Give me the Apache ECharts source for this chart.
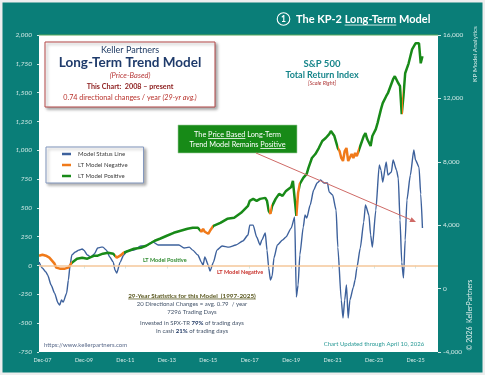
<!DOCTYPE html>
<html>
<head>
<meta charset="utf-8">
<title>The KP-2 Long-Term Model</title>
<script src="https://cdn.jsdelivr.net/npm/echarts@6/dist/echarts.min.js"></script>
<style>
  html, body { margin: 0; padding: 0; background: #fff; }
  #chart { width: 485px; height: 375px; }
</style>
</head>
<body>
<div id="chart"></div>
<script>
// ---- data ----
const tickLabels = ['Dec-07', 'Dec-09', 'Dec-11', 'Dec-13', 'Dec-15', 'Dec-17', 'Dec-19', 'Dec-21', 'Dec-23', 'Dec-25'];

// Model Status Line (left scale)
const modelStatus = [
  ['2007-10', 30], ['2007-12', -22], ['2008-02', -56], ['2008-03', -82], ['2008-05', -169],
  ['2008-07', -239], ['2008-09', -325], ['2008-10', -343], ['2008-11', -299], ['2008-12', -317],
  ['2009-02', -239], ['2009-03', -126], ['2009-04', 4], ['2009-05', 91], ['2009-07', 117],
  ['2009-09', 134], ['2009-11', 143], ['2009-12', 134], ['2010-02', 91], ['2010-04', 74],
  ['2010-06', 100], ['2010-08', 152], ['2010-10', 160], ['2010-11', 160], ['2011-01', 134],
  ['2011-03', 74], ['2011-05', 30], ['2011-06', -39], ['2011-07', -65], ['2011-09', 30],
  ['2011-11', 91], ['2012-01', 126], ['2012-05', 134], ['2012-09', 169], ['2012-12', 169],
  ['2013-04', 204], ['2013-07', 178], ['2013-10', 178], ['2014-02', 178], ['2014-07', 178],
  ['2014-10', 152], ['2015-01', 160], ['2015-03', 134], ['2015-06', 91], ['2015-08', 30],
  ['2015-09', 4], ['2015-10', 74], ['2015-12', 4], ['2016-01', -48], ['2016-03', 30],
  ['2016-05', 134], ['2016-08', 169], ['2016-12', 160], ['2017-04', 178], ['2017-08', 213],
  ['2017-11', 265], ['2017-12', 351], ['2018-02', 351], ['2018-04', 247], ['2018-06', 178],
  ['2018-07', 221], ['2018-09', 282], ['2018-10', 134], ['2018-11', -22], ['2018-12', -126],
  ['2019-01', -91], ['2019-02', 65], ['2019-04', 178], ['2019-07', 221], ['2019-09', 247],
  ['2019-12', 325], ['2020-02', 421], ['2020-03', -273], ['2020-04', -169], ['2020-05', 91],
  ['2020-07', 334], ['2020-08', 438], ['2020-09', 412], ['2020-11', 525], ['2021-01', 655],
  ['2021-03', 716], ['2021-05', 742], ['2021-07', 716], ['2021-09', 716], ['2021-10', 638],
  ['2021-12', 612], ['2022-02', 481], ['2022-03', 160], ['2022-05', -299], ['2022-06', -455],
  ['2022-07', -299], ['2022-08', -169], ['2022-09', -455], ['2022-10', -299], ['2022-12', -187],
  ['2023-01', -126], ['2023-02', -22], ['2023-04', 152], ['2023-06', 377], ['2023-07', 525],
  ['2023-09', 438], ['2023-10', 265], ['2023-11', 160], ['2024-01', 481], ['2024-03', 872],
  ['2024-04', 828], ['2024-05', 724], ['2024-07', 898], ['2024-08', 785], ['2024-10', 811],
  ['2024-11', 915], ['2025-01', 828], ['2025-02', 759], ['2025-03', 395], ['2025-04', 30],
  ['2025-05', -108], ['2025-06', 221], ['2025-07', 568], ['2025-09', 785], ['2025-11', 1002],
  ['2025-12', 915], ['2026-02', 854], ['2026-03', 620], ['2026-04', 325]
];

// S&P 500 Total Return Index (right scale)
const spxTotalReturn = [
  ['2007-10', 2076], ['2007-12', 2139], ['2008-02', 2076], ['2008-04', 1950], ['2008-05', 1887],
  ['2008-07', 1573], ['2008-08', 1321], ['2008-10', 1258], ['2008-11', 1132], ['2009-01', 1258],
  ['2009-02', 1132], ['2009-03', 1321], ['2009-04', 1447], ['2009-05', 1635], ['2009-08', 1887],
  ['2009-11', 1950], ['2010-02', 1887], ['2010-06', 2076], ['2010-08', 2076], ['2010-11', 2202],
  ['2011-02', 2264], ['2011-05', 2202], ['2011-07', 1950], ['2011-08', 1887], ['2011-09', 2076],
  ['2011-10', 2013], ['2011-11', 2264], ['2012-02', 2390], ['2012-05', 2516], ['2012-09', 2579],
  ['2012-12', 2705], ['2013-03', 2893], ['2013-05', 3019], ['2013-08', 3145], ['2013-12', 3334],
  ['2014-04', 3522], ['2014-08', 3648], ['2014-12', 3774], ['2015-03', 3837], ['2015-06', 3837],
  ['2015-08', 3585], ['2015-09', 3774], ['2015-10', 3585], ['2015-12', 3460], ['2016-01', 3648],
  ['2016-02', 3774], ['2016-03', 3963], ['2016-07', 4151], ['2016-11', 4403], ['2017-03', 4466],
  ['2017-07', 4780], ['2017-11', 5221], ['2017-12', 5535], ['2018-02', 5661], ['2018-04', 5535],
  ['2018-06', 5661], ['2018-09', 5724], ['2018-10', 5535], ['2018-11', 4906], ['2018-12', 4718],
  ['2019-01', 5221], ['2019-03', 5661], ['2019-05', 5976], ['2019-07', 5850], ['2019-09', 6164],
  ['2019-12', 6416], ['2020-01', 6793], ['2020-02', 6667], ['2020-03', 4592], ['2020-04', 6039],
  ['2020-05', 6605], ['2020-07', 6982], ['2020-09', 7234], ['2020-10', 7611], ['2020-12', 8240],
  ['2021-02', 8492], ['2021-04', 8869], ['2021-06', 9309], ['2021-08', 9498], ['2021-10', 9750],
  ['2021-11', 9938], ['2021-12', 10064], ['2022-01', 9624], ['2022-03', 8869], ['2022-04', 8680],
  ['2022-05', 8240], ['2022-06', 8051], ['2022-07', 8680], ['2022-08', 8869], ['2022-09', 8051],
  ['2022-10', 7925], ['2022-11', 8492], ['2022-12', 8240], ['2023-01', 8554], ['2023-02', 8366],
  ['2023-03', 8680], ['2023-04', 8995], ['2023-06', 9624], ['2023-07', 9812], ['2023-08', 9435],
  ['2023-10', 8995], ['2023-11', 9624], ['2024-01', 10064], ['2024-02', 10441], ['2024-04', 11322],
  ['2024-05', 11699], ['2024-07', 12140], ['2024-08', 12328], ['2024-11', 13209], ['2024-12', 13398],
  ['2025-02', 12957], ['2025-03', 12769], ['2025-04', 11008], ['2025-05', 12140], ['2025-06', 13586],
  ['2025-08', 14215], ['2025-09', 14656], ['2025-10', 15096], ['2025-11', 15285], ['2025-12', 15473],
  ['2026-01', 15411], ['2026-02', 15473], ['2026-03', 14215], ['2026-04', 14656]
];

// months when the LT model was negative (line drawn orange)
const negativePeriods = [
  ['2007-10', '2009-04'], ['2011-06', '2011-10'], ['2015-07', '2016-02'], ['2018-11', '2018-12'],
  ['2020-03', '2020-04'], ['2022-03', '2023-02'], ['2025-04', '2025-04']
];

// ---- categories: one per month, Oct-07 .. Jan-27 ----
const MONTH_NAMES = ['Jan', 'Feb', 'Mar', 'Apr', 'May', 'Jun', 'Jul', 'Aug', 'Sep', 'Oct', 'Nov', 'Dec'];
const months = [];
for (let k = 0; k < 232; k++) {
  const t = 2007 * 12 + 9 + k;
  months.push(Math.floor(t / 12) + '-' + String((t % 12) + 1).padStart(2, '0'));
}
const monthIdx = (m) => months.indexOf(m);
const monthLabel = (m) => MONTH_NAMES[+m.slice(5) - 1] + '-' + m.slice(2, 4);
const isTick = (i, m) => tickLabels.includes(monthLabel(m));

const TEAL = '#0a7e78';
const BLUE = '#3d619c';
const GREEN = '#188a18';
const ORANGE = '#f07a1a';
const ZERO_LINE = '#f5c79a';
const AXIS_TEXT = '#d2e9e6';
const FONT = 'Lato, "Open Sans", sans-serif';

// colour pieces for the S&P line, by month index
const pieces = [];
let prevEdge = -1;
negativePeriods.forEach(([a, b]) => {
  const lo = monthIdx(a) - 0.5;
  const hi = monthIdx(b) + 0.5;
  if (lo > prevEdge) pieces.push({ gte: prevEdge, lt: lo, color: GREEN });
  pieces.push({ gte: lo, lt: hi, color: ORANGE });
  prevEdge = hi;
});
pieces.push({ gte: prevEdge, lte: months.length, color: GREEN });

// ---- text helpers for the annotations ----
const measureCtx = document.createElement('canvas').getContext('2d');
const font = (size, weight, style) => `${style || 'normal'} ${weight || 'normal'} ${size}px ${FONT}`;
function measure(str, f) {
  measureCtx.font = f;
  return measureCtx.measureText(str).width;
}
// parts: [text, font, color, underline]
function textRun(parts, x, y, align) {
  const widths = parts.map((p) => measure(p[0], p[1]));
  const total = widths.reduce((a, b) => a + b, 0);
  let cx = align === 'center' ? x - total / 2 : x;
  const out = [];
  parts.forEach((p, k) => {
    out.push({
      type: 'text', x: cx, y: y, z: 100,
      style: { text: p[0], font: p[1], fill: p[2], textAlign: 'left', textVerticalAlign: 'middle', align: 'left', verticalAlign: 'middle' }
    });
    if (p[3]) {
      const size = parseFloat(p[1].match(/([\d.]+)px/)[1]);
      const uy = y + size * 0.55;
      out.push({ type: 'line', z: 100, shape: { x1: cx, y1: uy, x2: cx + widths[k], y2: uy }, style: { stroke: p[2], lineWidth: 0.8 } });
    }
    cx += widths[k];
  });
  return out;
}
function vText(str, x, y, f, color) {
  return {
    type: 'text', x: x, y: y, rotation: Math.PI / 2, z: 100,
    style: { text: str, font: f, fill: color, textAlign: 'center', textVerticalAlign: 'middle', align: 'center', verticalAlign: 'middle' }
  };
}
function arrow(x1, y1, x2, y2, color) {
  const len = Math.hypot(x2 - x1, y2 - y1);
  const ux = (x2 - x1) / len, uy = (y2 - y1) / len;
  const bx = x2 - ux * 6, by = y2 - uy * 6;
  return [
    { type: 'line', z: 100, shape: { x1: x1, y1: y1, x2: bx, y2: by }, style: { stroke: color, lineWidth: 1 } },
    { type: 'polygon', z: 100, shape: { points: [[x2, y2], [bx - uy * 2.6, by + ux * 2.6], [bx + uy * 2.6, by - ux * 2.6]] }, style: { fill: color } }
  ];
}

const graphics = [].concat(
  // title
  [{ type: 'circle', z: 100, shape: { cx: 283.5, cy: 19, r: 6.3 }, style: { fill: 'none', stroke: '#fff', lineWidth: 1.1 } }],
  textRun([['1', font(8.5, 'bold'), '#fff']], 283.5, 19.3, 'center'),
  textRun([['The KP-2 ', font(11, 'bold'), '#fff'], ['Long-Term', font(11, 'bold'), '#fff', true], [' Model', font(11, 'bold'), '#fff']], 296, 19, 'left'),
  // plot top edge
  [{ type: 'line', z: 100, shape: { x1: 39, y1: 35, x2: 438, y2: 35 }, style: { stroke: '#58a85a', lineWidth: 1 } }],
  // heading box
  [{ type: 'rect', z: 99, shape: { x: 45, y: 42, width: 170, height: 65 }, style: { fill: '#fff', stroke: '#b54848', lineWidth: 1, shadowBlur: 3, shadowOffsetX: 2, shadowOffsetY: 2, shadowColor: 'rgba(0,0,0,0.35)' } }],
  textRun([['Keller Partners', font(9), '#1f3b63']], 130, 50.5, 'center'),
  textRun([['Long-Term Trend Model', font(13.5, 'bold'), '#1f3b6b']], 130, 63, 'center'),
  textRun([['(Price-Based)', font(7.5, 'normal', 'italic'), '#b83a3a']], 130, 75.5, 'center'),
  textRun([['This Chart:  2008 \u2013 present', font(7.2, 'bold'), '#8c1c1c']], 130, 87, 'center'),
  textRun([['0.74 directional changes / year ', font(7.2), '#b8322c'], ['(29-yr avg.)', font(7.2, 'normal', 'italic'), '#b8322c']], 130, 98, 'center'),
  // green callout
  [{ type: 'rect', z: 99, shape: { x: 178, y: 125, width: 119, height: 28 }, style: { fill: '#178a17', stroke: '#9fcf9f', lineWidth: 0.6 } }],
  textRun([['The ', font(7.3), '#fff'], ['Price Based', font(7.3), '#fff', true], [' Long-Term', font(7.3), '#fff']], 237.5, 134.5, 'center'),
  textRun([['Trend Model Remains ', font(7.3), '#fff'], ['Positive', font(7.3), '#fff', true]], 237.5, 144.5, 'center'),
  arrow(256, 153, 416, 222, '#cf6a66'),
  // S&P caption
  textRun([['S&P 500', font(9.5, 'bold'), '#16858a']], 322, 64, 'center'),
  textRun([['Total Return Index', font(9, 'bold'), '#16858a']], 322, 75, 'center'),
  textRun([['[Scale Right]', font(5.5, 'normal', 'italic'), '#b03a3a']], 322, 83.5, 'center'),
  // model state labels
  textRun([['LT Model Positive', font(5.5, 'bold'), '#2e8b2e']], 143, 260, 'left'),
  textRun([['LT Model Negative', font(5.5, 'bold'), '#c8302a']], 217, 272, 'left'),
  // statistics
  textRun([['29-Year Statistics for this Model  (1997-2025)', font(6.3, 'bold'), '#5c5a22', true]], 192, 295.5, 'center'),
  textRun([['20 Directional Changes = avg. 0.79  / year', font(6), '#44546a']], 192, 304, 'center'),
  textRun([['7296 Trading Days', font(6), '#44546a']], 192, 312.5, 'center'),
  textRun([['Invested in SPX-TR ', font(6), '#44546a'], ['79%', font(6, 'bold'), '#1f3864'], [' of trading days', font(6), '#44546a']], 192, 323, 'center'),
  textRun([['In cash ', font(6), '#44546a'], ['21%', font(6, 'bold'), '#1f3864'], [' of trading days', font(6), '#44546a']], 192, 331.5, 'center'),
  textRun([['https://www.kellerpartners.com', font(6), '#5a6a8a']], 44, 345, 'left'),
  textRun([['Chart Updated through April 10, 2026', font(6), '#2a9a96']], 374, 344, 'center'),
  // side texts
  [vText('KP Model Analytics', 475, 54, font(6.5), AXIS_TEXT)],
  [vText('\u00A9 2026  KellerPartners', 470, 315, font(7), '#e2f0ee')],
  // outer frame
  [{ type: 'rect', z: 101, shape: { x: 0, y: 0, width: 485, height: 375 }, style: { fill: 'none', stroke: '#eeeeee', lineWidth: 5 } }]
);

const chart = echarts.init(document.getElementById('chart'));

chart.setOption({
  animation: false,
  backgroundColor: TEAL,
  textStyle: { fontFamily: FONT },
  grid: { left: 39, right: 47, top: 35, bottom: 23, show: true, backgroundColor: '#fff', borderWidth: 0 },
  legend: {
    data: ['Model Status Line', 'LT Model Negative', 'LT Model Positive'],
    orient: 'vertical',
    left: 46,
    top: 147,
    icon: 'rect',
    itemWidth: 9,
    itemHeight: 2.5,
    itemGap: 3,
    selectedMode: false,
    padding: [3, 16, 3, 16],
    backgroundColor: '#fff',
    borderColor: '#8196bd',
    borderWidth: 1,
    shadowBlur: 3,
    shadowOffsetX: 2,
    shadowOffsetY: 2,
    shadowColor: 'rgba(0,0,0,0.3)',
    textStyle: { fontSize: 6, color: '#404040', lineHeight: 8, padding: [0, 0, 0, 2] }
  },
  visualMap: [{ type: 'piecewise', show: false, dimension: 0, seriesIndex: 1, pieces: pieces }],
  xAxis: {
    type: 'category',
    data: months,
    boundaryGap: false,
    axisLine: { show: false },
    axisTick: { show: true, interval: isTick, length: 3, lineStyle: { color: AXIS_TEXT } },
    axisLabel: { interval: isTick, formatter: monthLabel, color: AXIS_TEXT, fontSize: 5.5, margin: 5 },
    splitLine: { show: false }
  },
  yAxis: [
    {
      type: 'value', position: 'left', min: -750, max: 2000, interval: 250,
      axisLine: { show: false },
      axisTick: { show: true, length: 2, lineStyle: { color: AXIS_TEXT } },
      axisLabel: { color: AXIS_TEXT, fontSize: 6.5, fontStyle: 'italic', margin: 7, formatter: (v) => v.toLocaleString('en-US') },
      splitLine: { show: false }
    },
    {
      type: 'value', position: 'right', min: -4000, max: 16000, interval: 4000,
      axisLine: { show: false },
      axisTick: { show: true, length: 3, lineStyle: { color: AXIS_TEXT } },
      axisLabel: { color: AXIS_TEXT, fontSize: 6.5, margin: 5, formatter: (v) => v.toLocaleString('en-US') },
      splitLine: { show: false }
    }
  ],
  series: [
    {
      name: 'Model Status Line',
      type: 'line',
      yAxisIndex: 0,
      data: modelStatus.map(([m, v]) => [monthIdx(m), v]),
      showSymbol: false,
      smooth: 0.2,
      smoothMonotone: 'x',
      lineStyle: { color: BLUE, width: 1.4 },
      itemStyle: { color: BLUE },
      markLine: {
        silent: true,
        symbol: 'none',
        label: { show: false },
        lineStyle: { color: ZERO_LINE, width: 1.5, type: 'solid' },
        data: [{ yAxis: 0 }]
      },
      z: 3
    },
    {
      name: 'S&P 500 Total Return Index',
      type: 'line',
      yAxisIndex: 1,
      data: spxTotalReturn.map(([m, v]) => [monthIdx(m), v]),
      showSymbol: false,
      lineStyle: { width: 2.5 },
      z: 4
    },
    { name: 'LT Model Negative', type: 'line', data: [], itemStyle: { color: ORANGE }, lineStyle: { color: ORANGE } },
    { name: 'LT Model Positive', type: 'line', data: [], itemStyle: { color: GREEN }, lineStyle: { color: GREEN } }
  ],
  graphic: { elements: graphics }
});
</script>
</body>
</html>
